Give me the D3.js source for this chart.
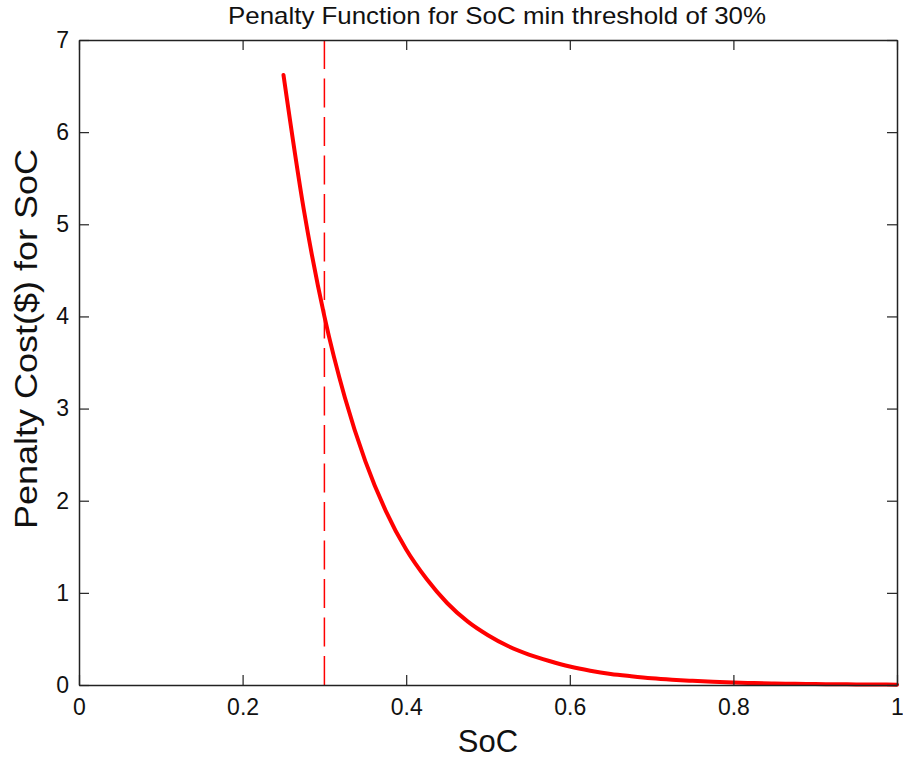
<!DOCTYPE html>
<html>
<head>
<meta charset="utf-8">
<script src="https://cdn.jsdelivr.net/npm/d3@7"></script>
<style>
  html, body { margin: 0; padding: 0; background: #fff; }
  svg { display: block; font-family: "Liberation Sans", Arial, sans-serif; }
</style>
</head>
<body>
<svg id="chart" width="903" height="761"></svg>
<script>
// Data
const socValues = [0.25, 0.275, 0.30, 0.325, 0.35, 0.375, 0.40, 0.425, 0.45, 0.475,
                   0.50, 0.525, 0.55, 0.575, 0.60, 0.625, 0.65, 0.675, 0.70, 0.725,
                   0.75, 0.775, 0.80, 0.825, 0.85, 0.875, 0.90, 0.925, 0.95, 0.975, 1.00];
const penaltyValues = [6.62, 5.15, 4.00, 3.12, 2.43, 1.89, 1.47, 1.15, 0.89, 0.69,
                       0.54, 0.42, 0.33, 0.26, 0.20, 0.155, 0.12, 0.095, 0.073, 0.057,
                       0.045, 0.035, 0.027, 0.021, 0.016, 0.013, 0.010, 0.008, 0.006, 0.005, 0.004];
const thresholdValue = [0.3];
const xTicks = [0, 0.2, 0.4, 0.6, 0.8, 1];
const yTicks = [0, 1, 2, 3, 4, 5, 6, 7];
const titleText = "Penalty Function for SoC min threshold of 30%";
const xLabelText = "SoC";
const yLabelText = "Penalty Cost($) for SoC";

const svg = d3.select("#chart");
const L = 79, R = 897, T = 40, B = 685;
const x = d3.scaleLinear().domain([0, 1]).range([L, R]);
const y = d3.scaleLinear().domain([0, 7]).range([B, T]);

const fmt = d => String(d);
const tickLen = 10;

// Threshold dashed line (drawn from bottom up)
svg.append("line")
  .attr("x1", x(thresholdValue[0])).attr("x2", x(thresholdValue[0]))
  .attr("y1", y(0)).attr("y2", y(7))
  .attr("stroke", "#ff0000").attr("stroke-width", 1.5)
  .attr("stroke-dasharray", "29,9.5");

// Curve
const line = d3.line().x((d, i) => x(socValues[i])).y(d => y(d)).curve(d3.curveMonotoneX);
svg.append("path").datum(penaltyValues)
  .attr("d", line).attr("fill", "none")
  .attr("stroke", "#ff0000").attr("stroke-width", 4)
  .attr("stroke-linejoin", "round").attr("stroke-linecap", "round");

// Axes (inward ticks, box)
const axB = d3.axisBottom(x).tickValues(xTicks).tickSizeInner(-tickLen).tickSizeOuter(0).tickPadding(14).tickFormat(fmt);
const axT = d3.axisTop(x).tickValues(xTicks).tickSizeInner(-tickLen).tickSizeOuter(0).tickFormat("");
const axL = d3.axisLeft(y).tickValues(yTicks).tickSizeInner(-tickLen).tickSizeOuter(0).tickPadding(10).tickFormat(fmt);
const axR = d3.axisRight(y).tickValues(yTicks).tickSizeInner(-tickLen).tickSizeOuter(0).tickFormat("");

function style(g) {
  g.selectAll(".domain").attr("stroke", "#222").attr("stroke-width", 1.5);
  g.selectAll(".tick line").attr("stroke", "#222").attr("stroke-width", 1.2);
  g.selectAll("text").attr("fill", "#111").style("font-size", "23px")
    .style("font-family", "'Liberation Sans', Arial, sans-serif");
}
svg.append("g").attr("transform", `translate(0,${B})`).call(axB).call(style);
svg.append("g").attr("transform", `translate(0,${T})`).call(axT).call(style);
svg.append("g").attr("transform", `translate(${L},0)`).call(axL).call(style);
svg.append("g").attr("transform", `translate(${R},0)`).call(axR).call(style);

// Title
svg.append("text").attr("x", 497).attr("y", 24)
  .attr("text-anchor", "middle").attr("fill", "#111")
  .attr("textLength", 538).attr("lengthAdjust", "spacingAndGlyphs")
  .style("font-size", "24px").text(titleText);

// X label
svg.append("text").attr("x", 488).attr("y", 752)
  .attr("text-anchor", "middle").attr("fill", "#111")
  .style("font-size", "31px").text(xLabelText);

// Y label
svg.append("text").attr("transform", `translate(37,339) rotate(-90)`)
  .attr("text-anchor", "middle").attr("fill", "#111")
  .attr("textLength", 380).attr("lengthAdjust", "spacingAndGlyphs")
  .style("font-size", "32px").text(yLabelText);
</script>
</body>
</html>
